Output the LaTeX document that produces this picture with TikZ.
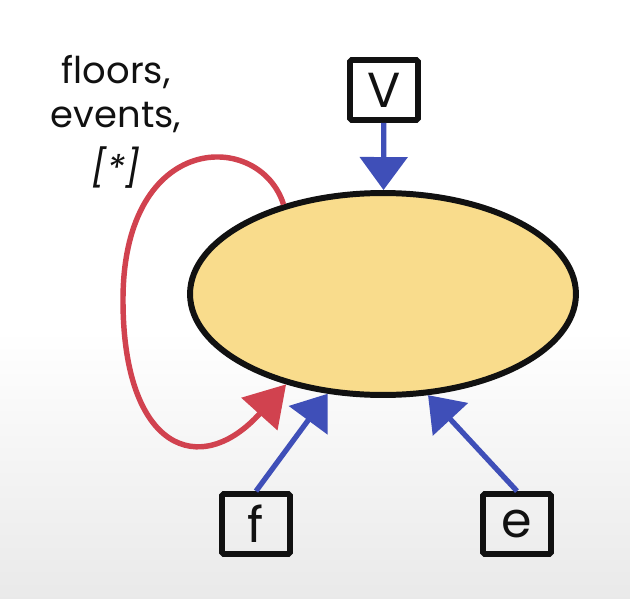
\documentclass[tikz,border=0pt]{standalone}
\usepackage{fontspec}
\setmainfont{Poppins}
\usetikzlibrary{arrows.meta, positioning, calc, shapes.geometric}
\definecolor{LoopRed}{HTML}{D1424F}
\definecolor{FlowBlue}{HTML}{3F4FB8}
\definecolor{StateYellow}{HTML}{F9DC8C}
\definecolor{InkBlack}{HTML}{111111}

\begin{document}
\begin{tikzpicture}[x=0.02cm, y=-0.02cm,
    varbox/.style={draw=InkBlack, line width=3.3pt, rounded corners=1pt, minimum width=1.36cm, minimum height=1.2cm, inner sep=0pt, font=\fontsize{28}{30}\selectfont, text=InkBlack},
    flow/.style={FlowBlue, line width=3pt, -{Triangle[width=0.94cm, length=0.66cm]}},
    selfloop/.style={LoopRed, line width=3.1pt, -{Triangle[width=0.95cm, length=0.8cm]}}]
          % background, white fading to grey at the bottom
          \fill[white] (0,0) rectangle (630,599);
          \shade[top color=white, bottom color=gray!17] (0,330) rectangle (630,599);
          \useasboundingbox (0,0) rectangle (630,599);

          \node[ellipse, draw=InkBlack, line width=3.4pt, fill=StateYellow, minimum width=7.72cm, minimum height=4.04cm] (sys) at (383,294) {};

          \node[varbox] (v) at (384,90) {V};
          \node[varbox] (f) at (256,524) {f};
          \node[varbox] (e) at (517,524) {e};

          \node[align=center, font=\fontsize{21}{25}\selectfont, text=InkBlack] (lbl) at (116,122) {floors,\\events,\\[6pt]{\itshape[*]}};

          \draw[flow] (v) -- (sys);
          \draw[flow] (f.north) -- (sys.-119);
          \draw[flow] (e.north) -- (sys.-66);

          \coordinate (loopwest) at (123,300);
          \draw[selfloop] (sys.138) .. controls (260,130) and (123,130) .. (loopwest)
                .. controls (123,450) and (200,480) .. (sys.-137);
      \end{tikzpicture}
\end{document}
